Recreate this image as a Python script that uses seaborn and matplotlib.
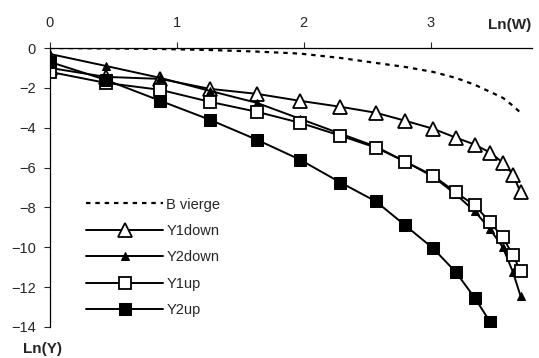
import matplotlib
matplotlib.use("Agg")
import matplotlib.pyplot as plt
import numpy as np
import pandas as pd
import seaborn as sns

# Ln(W) positions shared by all series
ln_w = [0.0, 0.44, 0.87, 1.26, 1.63, 1.97, 2.29, 2.57, 2.80, 3.02, 3.20, 3.35, 3.47, 3.57, 3.65, 3.71]

b_vierge = [0.0, -0.02, -0.05, -0.10, -0.18, -0.28, -0.50, -0.75, -0.95, -1.20, -1.50, -1.85, -2.20, -2.50, -2.90, -3.25]
y1_down = [-1.0, -1.45, -1.55, -2.05, -2.3, -2.65, -2.95, -3.25, -3.65, -4.05, -4.5, -4.85, -5.25, -5.75, -6.35, -7.25]
y2_down = [-0.3, -0.9, -1.5, -2.15, -2.75, -3.55, -4.3, -4.95, -5.7, -6.45, -7.35, -8.2, -9.1, -10.0, -11.25, -12.45]
y1_up = [-1.2, -1.75, -2.1, -2.7, -3.2, -3.75, -4.4, -5.0, -5.7, -6.4, -7.25, -7.9, -8.75, -9.5, -10.4, -11.2]
y2_up = [-0.7, -1.6, -2.65, -3.6, -4.6, -5.6, -6.75, -7.7, -8.9, -10.05, -11.25, -12.55, -13.75, -15.2]

x_ticks = [0, 1, 2, 3]
y_ticks = [0, -2, -4, -6, -8, -10, -12, -14]

sns.set_style("white")
plt.rcParams["font.family"] = ["Liberation Sans", "DejaVu Sans"]
plt.rcParams["font.size"] = 10.5

fig = plt.figure(figsize=(5.39, 3.58), dpi=100)
ax = fig.add_axes([50 / 539, 1 - 327 / 358, 482 / 539, 279 / 358])

lw = 1.4
sns.lineplot(x=ln_w, y=b_vierge, ax=ax, color="black", linewidth=1.6,
             dashes=False, label="B vierge").lines[-1].set_dashes([2, 2.2])
sns.lineplot(x=ln_w, y=y1_down, ax=ax, color="black", linewidth=lw,
             marker="^", markersize=9.5, markerfacecolor="white",
             markeredgecolor="black", markeredgewidth=1.3, label="Y1down")
sns.lineplot(x=ln_w, y=y2_down, ax=ax, color="black", linewidth=lw,
             marker="^", markersize=5.5, markerfacecolor="black",
             markeredgecolor="black", label="Y2down")
sns.lineplot(x=ln_w, y=y1_up, ax=ax, color="black", linewidth=lw,
             marker="s", markersize=8.5, markerfacecolor="white",
             markeredgecolor="black", markeredgewidth=1.3, label="Y1up")
sns.lineplot(x=ln_w[:len(y2_up)], y=y2_up, ax=ax, color="black", linewidth=lw,
             marker="s", markersize=8.5, markerfacecolor="black",
             markeredgecolor="black", label="Y2up")

ax.set_xlim(0, 3.8)
ax.set_ylim(-14, 0)
ax.set_xticks(x_ticks)
ax.set_yticks(y_ticks)
ax.xaxis.tick_top()
ax.tick_params(axis="x", direction="out", length=4, width=0.8, pad=9,
               top=True, bottom=False, labeltop=True, labelbottom=False)
ax.tick_params(axis="y", direction="out", length=4, width=0.8, pad=6, left=True)
for side in ["bottom", "right"]:
    ax.spines[side].set_visible(False)
for side in ["top", "left"]:
    ax.spines[side].set_color("black")
    ax.spines[side].set_linewidth(0.9)
ax.set_xlabel("")
ax.set_ylabel("")

ax.legend(loc="upper left", bbox_to_anchor=(0.063, 0.485), frameon=False,
          handlelength=5.3, handletextpad=0.2, labelspacing=0.85,
          borderaxespad=0, fontsize=10.5)

fig.text(510 / 539, 1 - 25 / 358, "Ln(W)", ha="center", va="center",
         fontweight="bold", fontsize=11)
fig.text(42 / 539, 1 - 349 / 358, "Ln(Y)", ha="center", va="center",
         fontweight="bold", fontsize=11)

fig.savefig("out.png", dpi=100)
